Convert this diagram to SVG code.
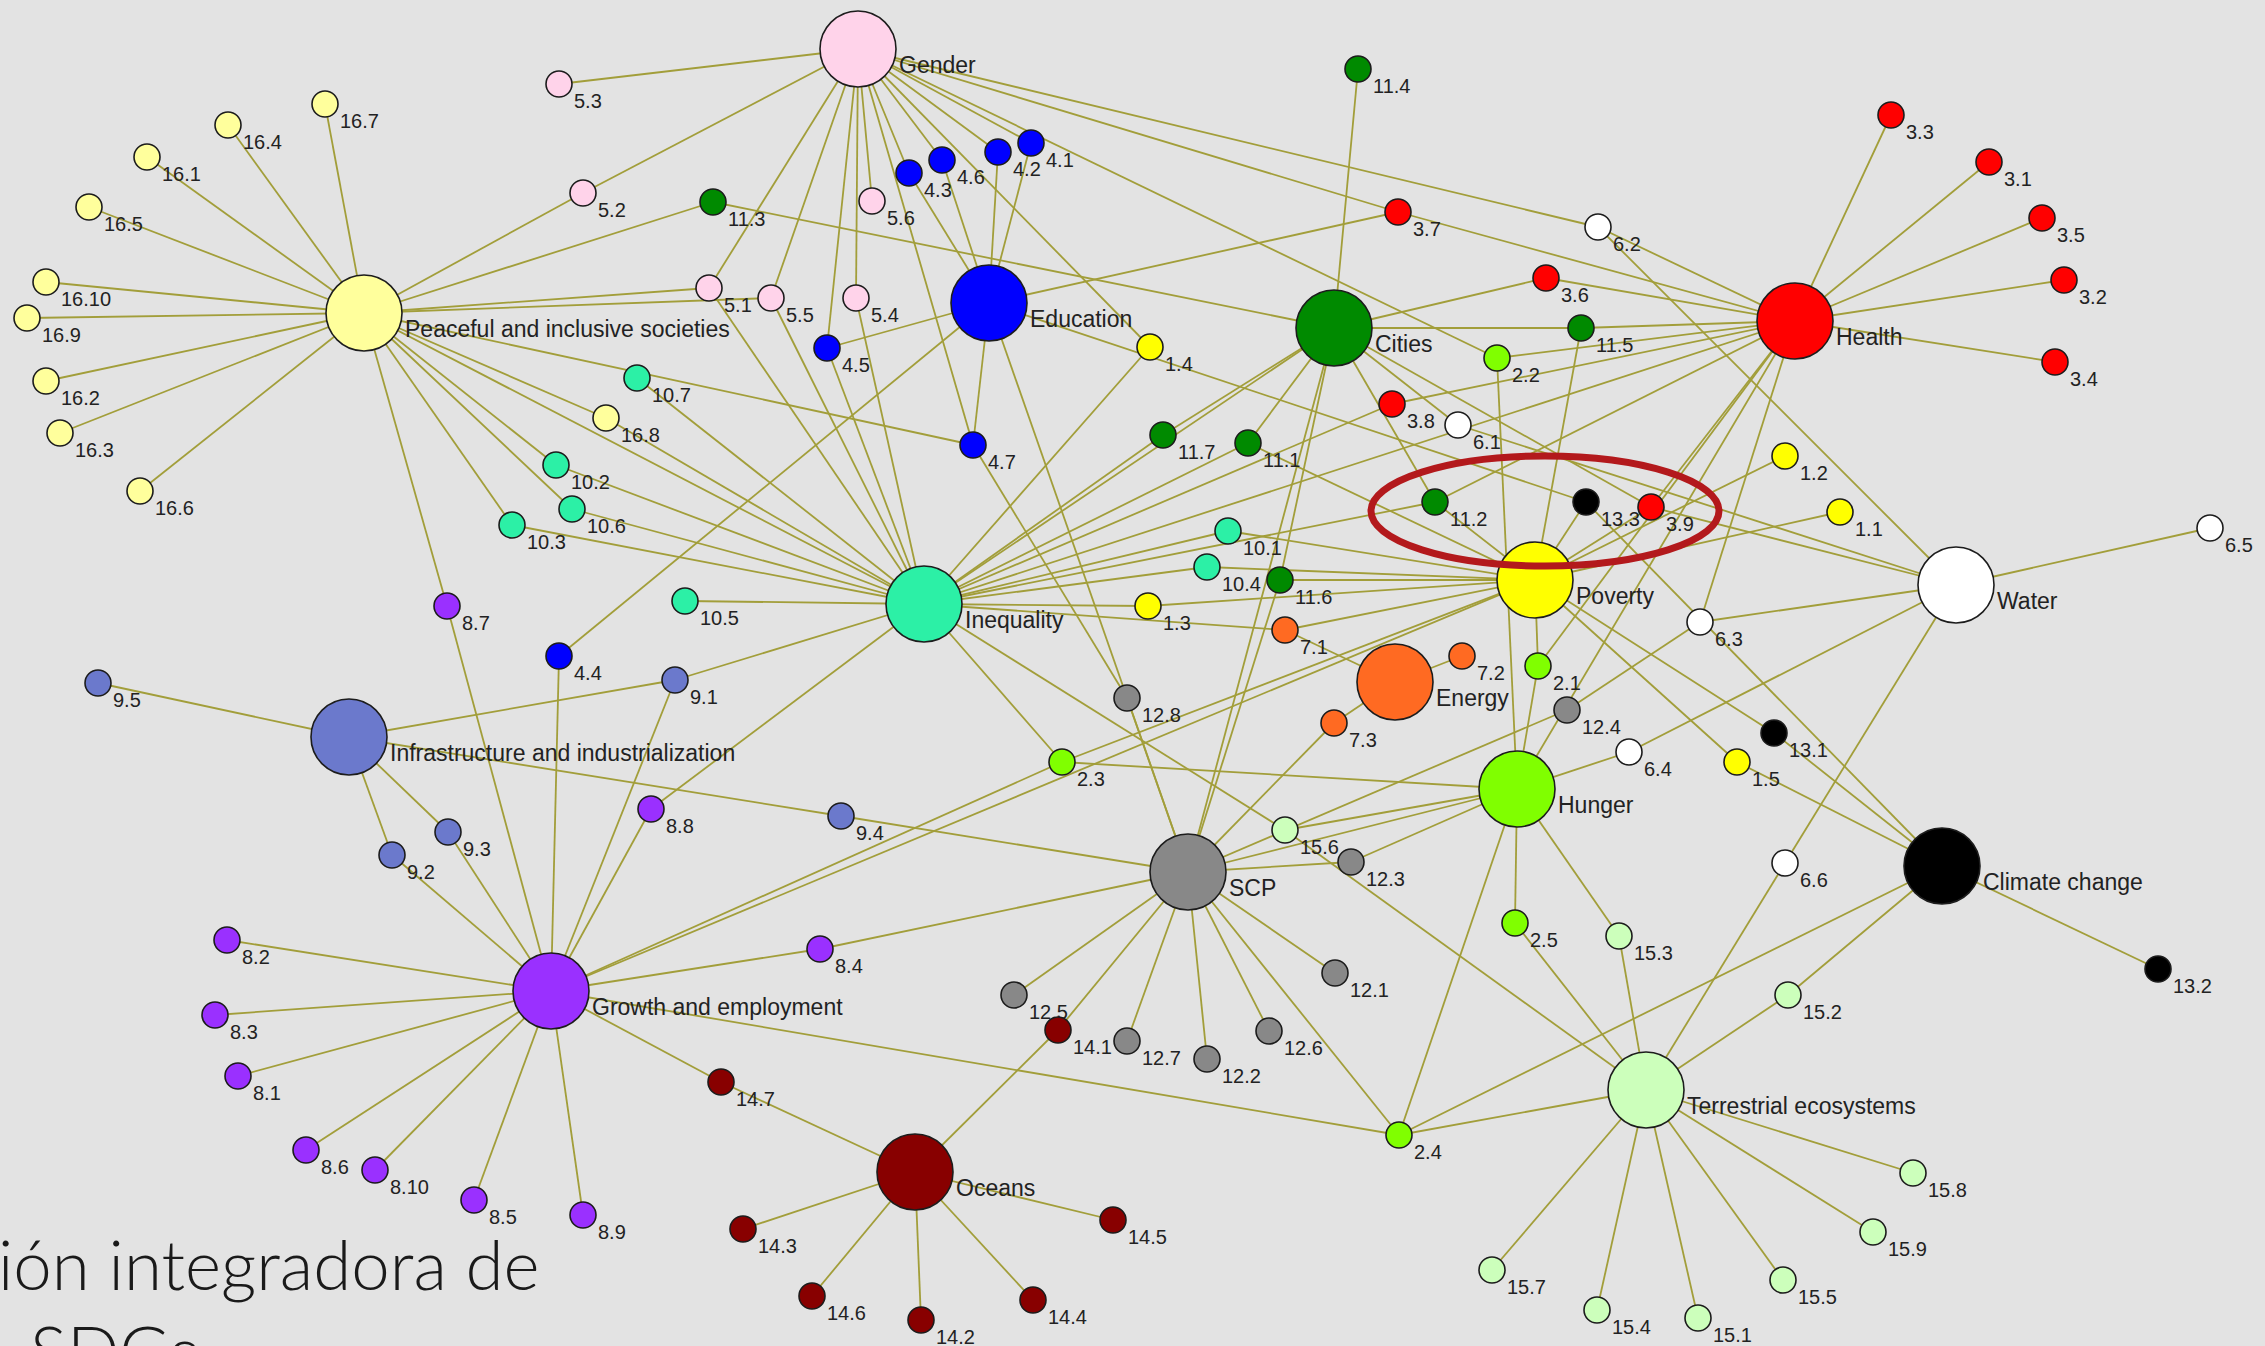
<svg xmlns="http://www.w3.org/2000/svg" width="2265" height="1346" viewBox="0 0 2265 1346">
<style>
.bg{fill:#e3e3e3}
.edges line{stroke:#a29e3a;stroke-width:1.8}
circle{stroke:#1c1c1c;stroke-width:1.6}
text{font-family:"Liberation Sans",Arial,sans-serif;fill:#222}
.lb{font-size:20px}
.hl{font-size:23px}
.c16{fill:#ffff9c}.c5{fill:#ffd3ea}.c4{fill:#0000ff}.c11{fill:#008a00}.c3{fill:#ff0000}.c10{fill:#2cf0a6}
.c1{fill:#ffff00}.c6{fill:#ffffff}.c7{fill:#ff6a22}.c2{fill:#80ff00}.c9{fill:#6b79cc}.c12{fill:#888888}
.c13{fill:#000000}.c8{fill:#9a30ff}.c14{fill:#880000}.c15{fill:#ccffbb}
.title{font-family:Lato,"Open Sans",sans-serif;font-weight:300;font-size:69px;fill:#1a1a1a}
</style>
<rect class="bg" x="0" y="0" width="2265" height="1346"/>
<g id="connectors" class="edges">
<line x1="364" y1="313" x2="325" y2="104"/><line x1="364" y1="313" x2="228" y2="125"/><line x1="364" y1="313" x2="147" y2="157"/><line x1="364" y1="313" x2="89" y2="207"/><line x1="364" y1="313" x2="46" y2="282"/><line x1="364" y1="313" x2="27" y2="318"/><line x1="364" y1="313" x2="46" y2="381"/><line x1="364" y1="313" x2="60" y2="433"/><line x1="364" y1="313" x2="140" y2="491"/><line x1="364" y1="313" x2="606" y2="418"/><line x1="364" y1="313" x2="583" y2="193"/><line x1="364" y1="313" x2="713" y2="202"/><line x1="364" y1="313" x2="709" y2="288"/><line x1="364" y1="313" x2="771" y2="298"/><line x1="364" y1="313" x2="973" y2="445"/><line x1="364" y1="313" x2="556" y2="465"/><line x1="364" y1="313" x2="572" y2="509"/><line x1="364" y1="313" x2="512" y2="525"/><line x1="364" y1="313" x2="447" y2="606"/><line x1="364" y1="313" x2="924" y2="604"/>
<line x1="858" y1="49" x2="559" y2="84"/><line x1="858" y1="49" x2="583" y2="193"/><line x1="858" y1="49" x2="709" y2="288"/><line x1="858" y1="49" x2="771" y2="298"/><line x1="858" y1="49" x2="856" y2="298"/><line x1="858" y1="49" x2="872" y2="201"/><line x1="858" y1="49" x2="827" y2="348"/><line x1="858" y1="49" x2="909" y2="173"/><line x1="858" y1="49" x2="942" y2="160"/><line x1="858" y1="49" x2="998" y2="152"/><line x1="858" y1="49" x2="1031" y2="143"/><line x1="858" y1="49" x2="1598" y2="227"/><line x1="858" y1="49" x2="1398" y2="212"/><line x1="858" y1="49" x2="1497" y2="358"/><line x1="858" y1="49" x2="1150" y2="347"/><line x1="858" y1="49" x2="973" y2="445"/>
<line x1="989" y1="303" x2="1031" y2="143"/><line x1="989" y1="303" x2="998" y2="152"/><line x1="989" y1="303" x2="942" y2="160"/><line x1="989" y1="303" x2="909" y2="173"/><line x1="989" y1="303" x2="827" y2="348"/><line x1="989" y1="303" x2="973" y2="445"/><line x1="989" y1="303" x2="559" y2="656"/><line x1="989" y1="303" x2="1188" y2="872"/><line x1="989" y1="303" x2="1398" y2="212"/><line x1="989" y1="303" x2="1586" y2="502"/>
<line x1="1334" y1="328" x2="713" y2="202"/><line x1="1334" y1="328" x2="1358" y2="69"/><line x1="1334" y1="328" x2="1546" y2="278"/><line x1="1334" y1="328" x2="1581" y2="328"/><line x1="1334" y1="328" x2="1163" y2="435"/><line x1="1334" y1="328" x2="1248" y2="443"/><line x1="1334" y1="328" x2="1435" y2="502"/><line x1="1334" y1="328" x2="1651" y2="507"/><line x1="1334" y1="328" x2="1188" y2="872"/><line x1="1334" y1="328" x2="924" y2="604"/><line x1="1334" y1="328" x2="1280" y2="580"/><line x1="1334" y1="328" x2="1458" y2="425"/>
<line x1="1795" y1="321" x2="1891" y2="115"/><line x1="1795" y1="321" x2="1989" y2="162"/><line x1="1795" y1="321" x2="2042" y2="218"/><line x1="1795" y1="321" x2="2064" y2="280"/><line x1="1795" y1="321" x2="2055" y2="362"/><line x1="1795" y1="321" x2="1398" y2="212"/><line x1="1795" y1="321" x2="1546" y2="278"/><line x1="1795" y1="321" x2="1581" y2="328"/><line x1="1795" y1="321" x2="1497" y2="358"/><line x1="1795" y1="321" x2="1392" y2="404"/><line x1="1795" y1="321" x2="1598" y2="227"/><line x1="1795" y1="321" x2="1435" y2="502"/><line x1="1795" y1="321" x2="1538" y2="666"/><line x1="1795" y1="321" x2="1517" y2="789"/><line x1="1795" y1="321" x2="1700" y2="622"/><line x1="1795" y1="321" x2="1651" y2="507"/><line x1="1795" y1="321" x2="924" y2="604"/>
<line x1="924" y1="604" x2="637" y2="378"/><line x1="924" y1="604" x2="556" y2="465"/><line x1="924" y1="604" x2="572" y2="509"/><line x1="924" y1="604" x2="512" y2="525"/><line x1="924" y1="604" x2="685" y2="601"/><line x1="924" y1="604" x2="606" y2="418"/><line x1="924" y1="604" x2="709" y2="288"/><line x1="924" y1="604" x2="771" y2="298"/><line x1="924" y1="604" x2="827" y2="348"/><line x1="924" y1="604" x2="856" y2="298"/><line x1="924" y1="604" x2="675" y2="680"/><line x1="924" y1="604" x2="651" y2="809"/><line x1="924" y1="604" x2="1163" y2="435"/><line x1="924" y1="604" x2="1248" y2="443"/><line x1="924" y1="604" x2="1150" y2="347"/><line x1="924" y1="604" x2="1392" y2="404"/><line x1="924" y1="604" x2="1435" y2="502"/><line x1="924" y1="604" x2="1228" y2="531"/><line x1="924" y1="604" x2="1207" y2="567"/><line x1="924" y1="604" x2="1148" y2="606"/><line x1="924" y1="604" x2="1285" y2="630"/><line x1="924" y1="604" x2="1285" y2="830"/><line x1="924" y1="604" x2="1062" y2="762"/>
<line x1="1535" y1="580" x2="1785" y2="456"/><line x1="1535" y1="580" x2="1840" y2="512"/><line x1="1535" y1="580" x2="1148" y2="606"/><line x1="1535" y1="580" x2="1737" y2="762"/><line x1="1535" y1="580" x2="1774" y2="733"/><line x1="1535" y1="580" x2="1581" y2="328"/><line x1="1535" y1="580" x2="1538" y2="666"/><line x1="1535" y1="580" x2="1228" y2="531"/><line x1="1535" y1="580" x2="1207" y2="567"/><line x1="1535" y1="580" x2="1280" y2="580"/><line x1="1535" y1="580" x2="1285" y2="630"/><line x1="1535" y1="580" x2="1062" y2="762"/><line x1="1535" y1="580" x2="551" y2="991"/><line x1="1535" y1="580" x2="1435" y2="502"/><line x1="1535" y1="580" x2="1586" y2="502"/><line x1="1535" y1="580" x2="1651" y2="507"/><line x1="1535" y1="580" x2="1248" y2="443"/>
<line x1="1956" y1="585" x2="2210" y2="528"/><line x1="1956" y1="585" x2="1598" y2="227"/><line x1="1956" y1="585" x2="1700" y2="622"/><line x1="1956" y1="585" x2="1785" y2="863"/><line x1="1956" y1="585" x2="1629" y2="752"/><line x1="1956" y1="585" x2="1458" y2="425"/><line x1="1956" y1="585" x2="1651" y2="507"/>
<line x1="1395" y1="682" x2="1285" y2="630"/><line x1="1395" y1="682" x2="1462" y2="656"/><line x1="1395" y1="682" x2="1334" y2="723"/>
<line x1="1517" y1="789" x2="1538" y2="666"/><line x1="1517" y1="789" x2="1497" y2="358"/><line x1="1517" y1="789" x2="1515" y2="923"/><line x1="1517" y1="789" x2="1062" y2="762"/><line x1="1517" y1="789" x2="1399" y2="1135"/><line x1="1517" y1="789" x2="1629" y2="752"/><line x1="1517" y1="789" x2="1285" y2="830"/><line x1="1517" y1="789" x2="1188" y2="872"/><line x1="1517" y1="789" x2="1351" y2="862"/><line x1="1517" y1="789" x2="1619" y2="936"/>
<line x1="1188" y1="872" x2="1127" y2="698"/><line x1="1188" y1="872" x2="1567" y2="710"/><line x1="1188" y1="872" x2="1351" y2="862"/><line x1="1188" y1="872" x2="1335" y2="973"/><line x1="1188" y1="872" x2="1269" y2="1031"/><line x1="1188" y1="872" x2="1207" y2="1059"/><line x1="1188" y1="872" x2="1127" y2="1041"/><line x1="1188" y1="872" x2="1014" y2="995"/><line x1="1188" y1="872" x2="841" y2="816"/><line x1="1188" y1="872" x2="1280" y2="580"/><line x1="1188" y1="872" x2="1334" y2="723"/><line x1="1188" y1="872" x2="1058" y2="1030"/><line x1="1188" y1="872" x2="1399" y2="1135"/><line x1="1188" y1="872" x2="820" y2="949"/><line x1="973" y1="445" x2="1127" y2="698"/><line x1="1567" y1="710" x2="1700" y2="622"/>
<line x1="1942" y1="866" x2="2158" y2="969"/><line x1="1942" y1="866" x2="1774" y2="733"/><line x1="1942" y1="866" x2="1737" y2="762"/><line x1="1942" y1="866" x2="1586" y2="502"/><line x1="1942" y1="866" x2="1788" y2="995"/><line x1="1942" y1="866" x2="1399" y2="1135"/>
<line x1="551" y1="991" x2="227" y2="940"/><line x1="551" y1="991" x2="215" y2="1015"/><line x1="551" y1="991" x2="238" y2="1076"/><line x1="551" y1="991" x2="306" y2="1150"/><line x1="551" y1="991" x2="375" y2="1170"/><line x1="551" y1="991" x2="474" y2="1200"/><line x1="551" y1="991" x2="583" y2="1215"/><line x1="551" y1="991" x2="820" y2="949"/><line x1="551" y1="991" x2="721" y2="1082"/><line x1="551" y1="991" x2="447" y2="606"/><line x1="551" y1="991" x2="651" y2="809"/><line x1="551" y1="991" x2="675" y2="680"/><line x1="551" y1="991" x2="559" y2="656"/><line x1="551" y1="991" x2="448" y2="832"/><line x1="551" y1="991" x2="392" y2="855"/><line x1="551" y1="991" x2="1399" y2="1135"/><line x1="551" y1="991" x2="1062" y2="762"/>
<line x1="349" y1="737" x2="98" y2="683"/><line x1="349" y1="737" x2="675" y2="680"/><line x1="349" y1="737" x2="448" y2="832"/><line x1="349" y1="737" x2="392" y2="855"/><line x1="349" y1="737" x2="841" y2="816"/>
<line x1="915" y1="1172" x2="721" y2="1082"/><line x1="915" y1="1172" x2="743" y2="1229"/><line x1="915" y1="1172" x2="812" y2="1296"/><line x1="915" y1="1172" x2="921" y2="1320"/><line x1="915" y1="1172" x2="1033" y2="1300"/><line x1="915" y1="1172" x2="1113" y2="1220"/><line x1="915" y1="1172" x2="1058" y2="1030"/>
<line x1="1646" y1="1090" x2="1619" y2="936"/><line x1="1646" y1="1090" x2="1788" y2="995"/><line x1="1646" y1="1090" x2="1913" y2="1173"/><line x1="1646" y1="1090" x2="1873" y2="1232"/><line x1="1646" y1="1090" x2="1783" y2="1280"/><line x1="1646" y1="1090" x2="1698" y2="1318"/><line x1="1646" y1="1090" x2="1597" y2="1310"/><line x1="1646" y1="1090" x2="1492" y2="1270"/><line x1="1646" y1="1090" x2="1515" y2="923"/><line x1="1646" y1="1090" x2="1785" y2="863"/><line x1="1646" y1="1090" x2="1285" y2="830"/><line x1="1646" y1="1090" x2="1399" y2="1135"/>
</g>
<g id="hubs">
<g id="hub-gender"><circle class="c5" cx="858" cy="49" r="38"/><text class="hl" x="899" y="73">Gender</text></g>
<g id="hub-peace"><circle class="c16" cx="364" cy="313" r="38"/><text class="hl" x="405" y="337">Peaceful and inclusive societies</text></g>
<g id="hub-education"><circle class="c4" cx="989" cy="303" r="38"/><text class="hl" x="1030" y="327">Education</text></g>
<g id="hub-cities"><circle class="c11" cx="1334" cy="328" r="38"/><text class="hl" x="1375" y="352">Cities</text></g>
<g id="hub-health"><circle class="c3" cx="1795" cy="321" r="38"/><text class="hl" x="1836" y="345">Health</text></g>
<g id="hub-inequality"><circle class="c10" cx="924" cy="604" r="38"/><text class="hl" x="965" y="628">Inequality</text></g>
<g id="hub-poverty"><circle class="c1" cx="1535" cy="580" r="38"/><text class="hl" x="1576" y="604">Poverty</text></g>
<g id="hub-water"><circle class="c6" cx="1956" cy="585" r="38"/><text class="hl" x="1997" y="609">Water</text></g>
<g id="hub-energy"><circle class="c7" cx="1395" cy="682" r="38"/><text class="hl" x="1436" y="706">Energy</text></g>
<g id="hub-hunger"><circle class="c2" cx="1517" cy="789" r="38"/><text class="hl" x="1558" y="813">Hunger</text></g>
<g id="hub-infra"><circle class="c9" cx="349" cy="737" r="38"/><text class="hl" x="390" y="761">Infrastructure and industrialization</text></g>
<g id="hub-scp"><circle class="c12" cx="1188" cy="872" r="38"/><text class="hl" x="1229" y="896">SCP</text></g>
<g id="hub-climate"><circle class="c13" cx="1942" cy="866" r="38"/><text class="hl" x="1983" y="890">Climate change</text></g>
<g id="hub-growth"><circle class="c8" cx="551" cy="991" r="38"/><text class="hl" x="592" y="1015">Growth and employment</text></g>
<g id="hub-oceans"><circle class="c14" cx="915" cy="1172" r="38"/><text class="hl" x="956" y="1196">Oceans</text></g>
<g id="hub-terrestrial"><circle class="c15" cx="1646" cy="1090" r="38"/><text class="hl" x="1687" y="1114">Terrestrial ecosystems</text></g>
</g>
<g id="targets">
<g id="t16-7"><circle class="c16" cx="325" cy="104" r="13"/><text class="lb" x="340" y="128">16.7</text></g>
<g id="t16-4"><circle class="c16" cx="228" cy="125" r="13"/><text class="lb" x="243" y="149">16.4</text></g>
<g id="t16-1"><circle class="c16" cx="147" cy="157" r="13"/><text class="lb" x="162" y="181">16.1</text></g>
<g id="t16-5"><circle class="c16" cx="89" cy="207" r="13"/><text class="lb" x="104" y="231">16.5</text></g>
<g id="t16-10"><circle class="c16" cx="46" cy="282" r="13"/><text class="lb" x="61" y="306">16.10</text></g>
<g id="t16-9"><circle class="c16" cx="27" cy="318" r="13"/><text class="lb" x="42" y="342">16.9</text></g>
<g id="t16-2"><circle class="c16" cx="46" cy="381" r="13"/><text class="lb" x="61" y="405">16.2</text></g>
<g id="t16-3"><circle class="c16" cx="60" cy="433" r="13"/><text class="lb" x="75" y="457">16.3</text></g>
<g id="t16-6"><circle class="c16" cx="140" cy="491" r="13"/><text class="lb" x="155" y="515">16.6</text></g>
<g id="t16-8"><circle class="c16" cx="606" cy="418" r="13"/><text class="lb" x="621" y="442">16.8</text></g>
<g id="t5-3"><circle class="c5" cx="559" cy="84" r="13"/><text class="lb" x="574" y="108">5.3</text></g>
<g id="t5-2"><circle class="c5" cx="583" cy="193" r="13"/><text class="lb" x="598" y="217">5.2</text></g>
<g id="t5-1"><circle class="c5" cx="709" cy="288" r="13"/><text class="lb" x="724" y="312">5.1</text></g>
<g id="t5-5"><circle class="c5" cx="771" cy="298" r="13"/><text class="lb" x="786" y="322">5.5</text></g>
<g id="t5-4"><circle class="c5" cx="856" cy="298" r="13"/><text class="lb" x="871" y="322">5.4</text></g>
<g id="t5-6"><circle class="c5" cx="872" cy="201" r="13"/><text class="lb" x="887" y="225">5.6</text></g>
<g id="t4-3"><circle class="c4" cx="909" cy="173" r="13"/><text class="lb" x="924" y="197">4.3</text></g>
<g id="t4-6"><circle class="c4" cx="942" cy="160" r="13"/><text class="lb" x="957" y="184">4.6</text></g>
<g id="t4-2"><circle class="c4" cx="998" cy="152" r="13"/><text class="lb" x="1013" y="176">4.2</text></g>
<g id="t4-1"><circle class="c4" cx="1031" cy="143" r="13"/><text class="lb" x="1046" y="167">4.1</text></g>
<g id="t4-5"><circle class="c4" cx="827" cy="348" r="13"/><text class="lb" x="842" y="372">4.5</text></g>
<g id="t4-7"><circle class="c4" cx="973" cy="445" r="13"/><text class="lb" x="988" y="469">4.7</text></g>
<g id="t4-4"><circle class="c4" cx="559" cy="656" r="13"/><text class="lb" x="574" y="680">4.4</text></g>
<g id="t11-3"><circle class="c11" cx="713" cy="202" r="13"/><text class="lb" x="728" y="226">11.3</text></g>
<g id="t11-4"><circle class="c11" cx="1358" cy="69" r="13"/><text class="lb" x="1373" y="93">11.4</text></g>
<g id="t11-5"><circle class="c11" cx="1581" cy="328" r="13"/><text class="lb" x="1596" y="352">11.5</text></g>
<g id="t11-7"><circle class="c11" cx="1163" cy="435" r="13"/><text class="lb" x="1178" y="459">11.7</text></g>
<g id="t11-1"><circle class="c11" cx="1248" cy="443" r="13"/><text class="lb" x="1263" y="467">11.1</text></g>
<g id="t11-2"><circle class="c11" cx="1435" cy="502" r="13"/><text class="lb" x="1450" y="526">11.2</text></g>
<g id="t11-6"><circle class="c11" cx="1280" cy="580" r="13"/><text class="lb" x="1295" y="604">11.6</text></g>
<g id="t3-7"><circle class="c3" cx="1398" cy="212" r="13"/><text class="lb" x="1413" y="236">3.7</text></g>
<g id="t3-6"><circle class="c3" cx="1546" cy="278" r="13"/><text class="lb" x="1561" y="302">3.6</text></g>
<g id="t3-8"><circle class="c3" cx="1392" cy="404" r="13"/><text class="lb" x="1407" y="428">3.8</text></g>
<g id="t3-3"><circle class="c3" cx="1891" cy="115" r="13"/><text class="lb" x="1906" y="139">3.3</text></g>
<g id="t3-1"><circle class="c3" cx="1989" cy="162" r="13"/><text class="lb" x="2004" y="186">3.1</text></g>
<g id="t3-5"><circle class="c3" cx="2042" cy="218" r="13"/><text class="lb" x="2057" y="242">3.5</text></g>
<g id="t3-2"><circle class="c3" cx="2064" cy="280" r="13"/><text class="lb" x="2079" y="304">3.2</text></g>
<g id="t3-4"><circle class="c3" cx="2055" cy="362" r="13"/><text class="lb" x="2070" y="386">3.4</text></g>
<g id="t3-9"><circle class="c3" cx="1651" cy="507" r="13"/><text class="lb" x="1666" y="531">3.9</text></g>
<g id="t6-2"><circle class="c6" cx="1598" cy="227" r="13"/><text class="lb" x="1613" y="251">6.2</text></g>
<g id="t6-1"><circle class="c6" cx="1458" cy="425" r="13"/><text class="lb" x="1473" y="449">6.1</text></g>
<g id="t6-3"><circle class="c6" cx="1700" cy="622" r="13"/><text class="lb" x="1715" y="646">6.3</text></g>
<g id="t6-4"><circle class="c6" cx="1629" cy="752" r="13"/><text class="lb" x="1644" y="776">6.4</text></g>
<g id="t6-5"><circle class="c6" cx="2210" cy="528" r="13"/><text class="lb" x="2225" y="552">6.5</text></g>
<g id="t6-6"><circle class="c6" cx="1785" cy="863" r="13"/><text class="lb" x="1800" y="887">6.6</text></g>
<g id="t2-2"><circle class="c2" cx="1497" cy="358" r="13"/><text class="lb" x="1512" y="382">2.2</text></g>
<g id="t2-1"><circle class="c2" cx="1538" cy="666" r="13"/><text class="lb" x="1553" y="690">2.1</text></g>
<g id="t2-3"><circle class="c2" cx="1062" cy="762" r="13"/><text class="lb" x="1077" y="786">2.3</text></g>
<g id="t2-5"><circle class="c2" cx="1515" cy="923" r="13"/><text class="lb" x="1530" y="947">2.5</text></g>
<g id="t2-4"><circle class="c2" cx="1399" cy="1135" r="13"/><text class="lb" x="1414" y="1159">2.4</text></g>
<g id="t1-4"><circle class="c1" cx="1150" cy="347" r="13"/><text class="lb" x="1165" y="371">1.4</text></g>
<g id="t1-2"><circle class="c1" cx="1785" cy="456" r="13"/><text class="lb" x="1800" y="480">1.2</text></g>
<g id="t1-1"><circle class="c1" cx="1840" cy="512" r="13"/><text class="lb" x="1855" y="536">1.1</text></g>
<g id="t1-3"><circle class="c1" cx="1148" cy="606" r="13"/><text class="lb" x="1163" y="630">1.3</text></g>
<g id="t1-5"><circle class="c1" cx="1737" cy="762" r="13"/><text class="lb" x="1752" y="786">1.5</text></g>
<g id="t10-7"><circle class="c10" cx="637" cy="378" r="13"/><text class="lb" x="652" y="402">10.7</text></g>
<g id="t10-2"><circle class="c10" cx="556" cy="465" r="13"/><text class="lb" x="571" y="489">10.2</text></g>
<g id="t10-6"><circle class="c10" cx="572" cy="509" r="13"/><text class="lb" x="587" y="533">10.6</text></g>
<g id="t10-3"><circle class="c10" cx="512" cy="525" r="13"/><text class="lb" x="527" y="549">10.3</text></g>
<g id="t10-5"><circle class="c10" cx="685" cy="601" r="13"/><text class="lb" x="700" y="625">10.5</text></g>
<g id="t10-1"><circle class="c10" cx="1228" cy="531" r="13"/><text class="lb" x="1243" y="555">10.1</text></g>
<g id="t10-4"><circle class="c10" cx="1207" cy="567" r="13"/><text class="lb" x="1222" y="591">10.4</text></g>
<g id="t13-3"><circle class="c13" cx="1586" cy="502" r="13"/><text class="lb" x="1601" y="526">13.3</text></g>
<g id="t13-1"><circle class="c13" cx="1774" cy="733" r="13"/><text class="lb" x="1789" y="757">13.1</text></g>
<g id="t13-2"><circle class="c13" cx="2158" cy="969" r="13"/><text class="lb" x="2173" y="993">13.2</text></g>
<g id="t7-1"><circle class="c7" cx="1285" cy="630" r="13"/><text class="lb" x="1300" y="654">7.1</text></g>
<g id="t7-2"><circle class="c7" cx="1462" cy="656" r="13"/><text class="lb" x="1477" y="680">7.2</text></g>
<g id="t7-3"><circle class="c7" cx="1334" cy="723" r="13"/><text class="lb" x="1349" y="747">7.3</text></g>
<g id="t12-8"><circle class="c12" cx="1127" cy="698" r="13"/><text class="lb" x="1142" y="722">12.8</text></g>
<g id="t12-4"><circle class="c12" cx="1567" cy="710" r="13"/><text class="lb" x="1582" y="734">12.4</text></g>
<g id="t12-3"><circle class="c12" cx="1351" cy="862" r="13"/><text class="lb" x="1366" y="886">12.3</text></g>
<g id="t12-1"><circle class="c12" cx="1335" cy="973" r="13"/><text class="lb" x="1350" y="997">12.1</text></g>
<g id="t12-6"><circle class="c12" cx="1269" cy="1031" r="13"/><text class="lb" x="1284" y="1055">12.6</text></g>
<g id="t12-2"><circle class="c12" cx="1207" cy="1059" r="13"/><text class="lb" x="1222" y="1083">12.2</text></g>
<g id="t12-7"><circle class="c12" cx="1127" cy="1041" r="13"/><text class="lb" x="1142" y="1065">12.7</text></g>
<g id="t12-5"><circle class="c12" cx="1014" cy="995" r="13"/><text class="lb" x="1029" y="1019">12.5</text></g>
<g id="t15-6"><circle class="c15" cx="1285" cy="830" r="13"/><text class="lb" x="1300" y="854">15.6</text></g>
<g id="t15-3"><circle class="c15" cx="1619" cy="936" r="13"/><text class="lb" x="1634" y="960">15.3</text></g>
<g id="t15-2"><circle class="c15" cx="1788" cy="995" r="13"/><text class="lb" x="1803" y="1019">15.2</text></g>
<g id="t15-8"><circle class="c15" cx="1913" cy="1173" r="13"/><text class="lb" x="1928" y="1197">15.8</text></g>
<g id="t15-9"><circle class="c15" cx="1873" cy="1232" r="13"/><text class="lb" x="1888" y="1256">15.9</text></g>
<g id="t15-5"><circle class="c15" cx="1783" cy="1280" r="13"/><text class="lb" x="1798" y="1304">15.5</text></g>
<g id="t15-1"><circle class="c15" cx="1698" cy="1318" r="13"/><text class="lb" x="1713" y="1342">15.1</text></g>
<g id="t15-4"><circle class="c15" cx="1597" cy="1310" r="13"/><text class="lb" x="1612" y="1334">15.4</text></g>
<g id="t15-7"><circle class="c15" cx="1492" cy="1270" r="13"/><text class="lb" x="1507" y="1294">15.7</text></g>
<g id="t9-5"><circle class="c9" cx="98" cy="683" r="13"/><text class="lb" x="113" y="707">9.5</text></g>
<g id="t9-1"><circle class="c9" cx="675" cy="680" r="13"/><text class="lb" x="690" y="704">9.1</text></g>
<g id="t9-3"><circle class="c9" cx="448" cy="832" r="13"/><text class="lb" x="463" y="856">9.3</text></g>
<g id="t9-2"><circle class="c9" cx="392" cy="855" r="13"/><text class="lb" x="407" y="879">9.2</text></g>
<g id="t9-4"><circle class="c9" cx="841" cy="816" r="13"/><text class="lb" x="856" y="840">9.4</text></g>
<g id="t8-7"><circle class="c8" cx="447" cy="606" r="13"/><text class="lb" x="462" y="630">8.7</text></g>
<g id="t8-8"><circle class="c8" cx="651" cy="809" r="13"/><text class="lb" x="666" y="833">8.8</text></g>
<g id="t8-4"><circle class="c8" cx="820" cy="949" r="13"/><text class="lb" x="835" y="973">8.4</text></g>
<g id="t8-2"><circle class="c8" cx="227" cy="940" r="13"/><text class="lb" x="242" y="964">8.2</text></g>
<g id="t8-3"><circle class="c8" cx="215" cy="1015" r="13"/><text class="lb" x="230" y="1039">8.3</text></g>
<g id="t8-1"><circle class="c8" cx="238" cy="1076" r="13"/><text class="lb" x="253" y="1100">8.1</text></g>
<g id="t8-6"><circle class="c8" cx="306" cy="1150" r="13"/><text class="lb" x="321" y="1174">8.6</text></g>
<g id="t8-10"><circle class="c8" cx="375" cy="1170" r="13"/><text class="lb" x="390" y="1194">8.10</text></g>
<g id="t8-5"><circle class="c8" cx="474" cy="1200" r="13"/><text class="lb" x="489" y="1224">8.5</text></g>
<g id="t8-9"><circle class="c8" cx="583" cy="1215" r="13"/><text class="lb" x="598" y="1239">8.9</text></g>
<g id="t14-7"><circle class="c14" cx="721" cy="1082" r="13"/><text class="lb" x="736" y="1106">14.7</text></g>
<g id="t14-1"><circle class="c14" cx="1058" cy="1030" r="13"/><text class="lb" x="1073" y="1054">14.1</text></g>
<g id="t14-3"><circle class="c14" cx="743" cy="1229" r="13"/><text class="lb" x="758" y="1253">14.3</text></g>
<g id="t14-6"><circle class="c14" cx="812" cy="1296" r="13"/><text class="lb" x="827" y="1320">14.6</text></g>
<g id="t14-2"><circle class="c14" cx="921" cy="1320" r="13"/><text class="lb" x="936" y="1344">14.2</text></g>
<g id="t14-4"><circle class="c14" cx="1033" cy="1300" r="13"/><text class="lb" x="1048" y="1324">14.4</text></g>
<g id="t14-5"><circle class="c14" cx="1113" cy="1220" r="13"/><text class="lb" x="1128" y="1244">14.5</text></g>
</g>
<ellipse id="highlight" cx="1545" cy="511" rx="174" ry="55" fill="none" stroke="#b3191c" stroke-width="7"/>
<g id="title">
<text class="title" x="-2" y="1290">ión integradora de</text>
<text class="title" x="30" y="1376">SDGs</text>
</g>
</svg>
